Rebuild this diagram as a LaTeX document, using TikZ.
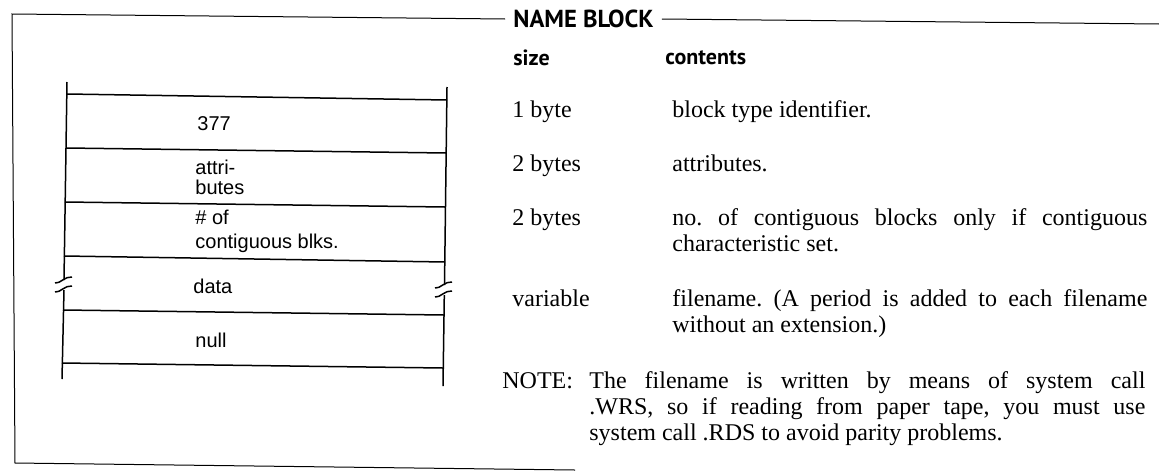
\documentclass[tikz,border=0pt]{standalone}
\usepackage{fontspec}
\setmainfont{Liberation Serif}
\newfontfamily\cellfont{Liberation Sans}
\newfontfamily\headfont{PT Sans}
\newcommand{\tornmark}[2]{%
  \draw (#1-9,#2) .. controls (#1-4,#2+1) and (#1+1,#2-7) .. (#1+8,#2-6);
  \draw (#1-9,#2+9) .. controls (#1-4,#2+10) and (#1+1,#2+2) .. (#1+8,#2+3);}
\begin{document}
\begin{tikzpicture}[x=0.5pt,y=-0.5pt,
  rule/.style={line width=0.75pt},
  cell/.style={anchor=west, inner sep=0pt, align=left, font=\cellfont\fontsize{10}{10}\selectfont},
  head/.style={anchor=west, inner sep=0pt, font=\headfont\bfseries\fontsize{11}{13}\selectfont},
  body/.style={anchor=base west, inner sep=0pt, font=\fontsize{12}{13}\selectfont\frenchspacing},
  para/.style={body, text width=#1, align=justify}]
\useasboundingbox (0,0) rectangle (1159,471);

\node[head, font=\headfont\bfseries\fontsize{12.3}{14}\selectfont] (title) at (513,19) {NAME BLOCK};
\draw[line width=0.5pt] ([xshift=-4pt]title.west) -- (12,14) -- (15,463) -- (575,470);
\draw[line width=0.5pt] ([xshift=4pt]title.east) -- (1159,24);

\begin{scope}[rule]
\draw (67,82) -- (64,280);
\draw (64,290) -- (62,379);
\draw (447,87) -- (444.5,285);
\draw (444.3,295) -- (443,386);
\tornmark{64}{283}
\tornmark{444}{288}
\foreach \ya/\yb/\xa/\xb in {94/100/67/447, 148/153/66/446, 202/207/65/445, 256/262/64/445, 310/315/63/444, 363/368/62/443}
  \draw (\xa,\ya) -- (\xb,\yb);
\end{scope}

\node[cell] (c377) at (197,124) {377};
\node[cell] (cattr) at (195,177) {attri-\\butes};
\node[cell] (ccont) at (195,231) {\# of\\[2pt]contiguous blks.};
\node[cell] (cdata) at (193,286) {data};
\node[cell] (cnull) at (195,340) {null};

\node[head] (hsize) at (513,58) {size};
\node[head] (hcont) at (665,58) {contents};

\node[body] (s1) at (512,117) {1 byte};
\node[body] (d1) at (672,117) {block type identifier.};
\node[body] (s2) at (512,171) {2 bytes};
\node[body] (d2) at (672,171) {attributes.};
\node[body] (s3) at (512,225) {2 bytes};
\node[para=237.5pt] (d3) at (672,225) {no. of contiguous blocks only if contiguous\linebreak characteristic set.};
\node[body] (s4) at (512,306) {variable};
\node[para=237.5pt] (d4) at (672,306) {filename. (A period is added to each filename\linebreak without an extension.)};

\node[body] (note) at (502,388) {NOTE:};
\node[para=278pt] (notetxt) at (589,388) {The filename is written by means of system call\linebreak .WRS, so if reading from paper tape, you must use\linebreak system call .RDS to avoid parity problems.};
\end{tikzpicture}
\end{document}
